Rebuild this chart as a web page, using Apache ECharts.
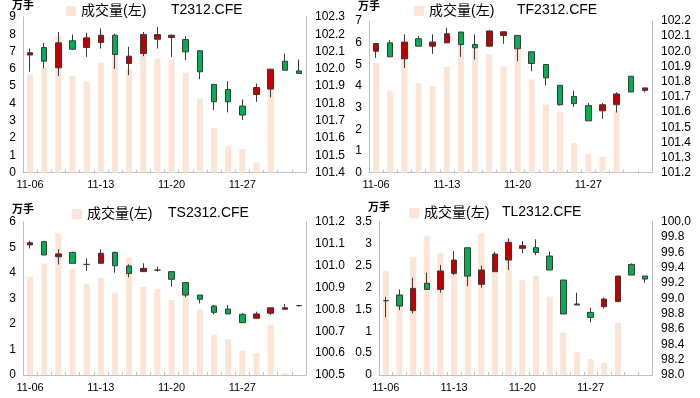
<!DOCTYPE html>
<html><head><meta charset="utf-8">
<script src="https://cdn.jsdelivr.net/npm/echarts@6/dist/echarts.min.js"></script>
<style>html,body{margin:0;padding:0;background:#fff}#c{width:700px;height:398px}</style>
</head><body><div id="c"></div>
<script>
const dates = ['11-06','11-07','11-08','11-09','11-10','11-13','11-14','11-15','11-16','11-17','11-20','11-21','11-22','11-23','11-24','11-27','11-28','11-29','11-30','12-01'];
const legendName = '成交量(左)';
const unitName = '万手';
const titles = ['T2312.CFE','TF2312.CFE','TS2312.CFE','TL2312.CFE'];

const volT = [5.7,6.05,7.9,5.6,5.28,6.35,6.9,6.0,6.8,6.6,6.53,5.76,4.25,2.58,1.53,1.36,0.59,4.85,0,0];
const volTF = [5.07,3.79,5.3,4.14,4.0,4.88,5.89,5.69,5.46,4.91,5.69,4.3,3.14,2.78,1.36,0.87,0.74,2.86,0,0];
const volTS = [3.85,4.37,5.54,4.15,3.56,3.81,3.23,4.6,3.45,3.36,2.93,3.1,2.55,1.58,1.4,0.95,0.85,1.96,0.07,0];
const volTL = [2.38,1.85,2.69,3.18,2.78,2.45,2.6,3.23,2.5,3.1,2.17,2.26,1.79,0.97,0.52,0.36,0.28,1.19,0,0];

// [open, close, low, high]
const kT = [
 [102.08,102.093,101.983,102.117],[102.123,102.044,102.002,102.15],[102.006,102.15,101.958,102.213],[102.162,102.113,102.108,102.198],
 [102.123,102.179,102.069,102.208],[102.152,102.194,102.117,102.233],[102.194,102.083,102.0,102.204],[102.031,102.073,101.963,102.127],
 [102.088,102.198,102.073,102.213],[102.171,102.198,102.117,102.242],[102.181,102.194,102.069,102.198],[102.169,102.098,102.05,102.188],
 [102.104,101.983,101.94,102.108],[101.91,101.81,101.762,101.91],[101.881,101.81,101.748,101.929],[101.785,101.733,101.704,101.823],
 [101.852,101.892,101.81,101.915],[101.883,101.998,101.835,101.998],[102.044,101.992,101.992,102.088],[101.988,101.973,101.973,102.054]];
const kTF = [
 [102.001,102.051,101.957,102.056],[102.056,101.964,101.964,102.074],[101.951,102.061,101.891,102.112],[102.083,102.034,102.034,102.101],
 [102.034,102.061,101.984,102.112],[102.056,102.116,102.056,102.156],[102.127,102.045,101.964,102.129],[102.045,102.023,101.946,102.112],
 [102.034,102.134,102.034,102.14],[102.105,102.129,102.05,102.129],[102.105,102.017,101.935,102.105],[101.997,101.92,101.869,101.997],
 [101.913,101.825,101.774,101.913],[101.776,101.648,101.642,101.776],[101.703,101.655,101.633,101.741],[101.642,101.542,101.542,101.659],
 [101.608,101.648,101.555,101.659],[101.648,101.719,101.597,101.73],[101.836,101.732,101.732,101.836],[101.743,101.759,101.73,101.759]];
const kTS = [
 [101.094,101.104,101.078,101.113],[101.109,101.048,101.048,101.113],[101.04,101.053,101.005,101.074],[101.06,101.01,101.01,101.063],
 [101.005,101.005,100.976,101.033],[101.01,101.056,101.01,101.074],[101.06,100.999,100.967,101.063],[100.998,100.964,100.946,101.005],
 [100.972,100.987,100.972,101.01],[100.979,100.979,100.972,100.995],[100.972,100.937,100.903,100.975],[100.922,100.865,100.855,100.922],
 [100.865,100.846,100.827,100.865],[100.815,100.786,100.777,100.82],[100.801,100.779,100.779,100.82],[100.777,100.739,100.739,100.782],
 [100.759,100.779,100.756,100.789],[100.782,100.807,100.774,100.807],[100.8,100.807,100.8,100.824],[100.817,100.817,100.812,100.82]];
const kTL = [
 [98.97,98.97,98.75,99.02],[99.043,98.9,98.848,99.117],[98.84,99.13,98.804,99.27],[99.196,99.117,99.117,99.335],
 [99.117,99.357,99.074,99.435],[99.326,99.5,99.304,99.617],[99.66,99.29,99.16,99.66],[99.183,99.37,99.139,99.426],
 [99.348,99.578,99.348,99.609],[99.5,99.73,99.37,99.783],[99.652,99.687,99.587,99.748],[99.661,99.6,99.565,99.77],
 [99.552,99.37,99.37,99.609],[99.239,98.796,98.796,99.239],[98.926,98.913,98.913,99.074],[98.817,98.752,98.687,98.878],
 [98.891,98.991,98.87,99.009],[98.957,99.291,98.957,99.291],[99.443,99.304,99.304,99.457],[99.291,99.252,99.204,99.291]];

const volAxes = [{max:9,interval:1},{max:7,interval:1},{max:6,interval:1},{max:3.5,interval:0.5}];
const priceAxes = [{min:101.4,max:102.3,interval:0.1,dec:1},{min:101.2,max:102.2,interval:0.1,dec:1},{min:100.5,max:101.2,interval:0.1,dec:1},{min:98.0,max:100.0,interval:0.2,dec:1}];
const vols = [volT, volTF, volTS, volTL];
const ks = [kT, kTF, kTS, kTL];

const FONT = '"Liberation Sans", Arial, "Noto Sans CJK SC", sans-serif';
const grids = [
 {left:23, right:394, top:16, bottom:225.3},
 {left:369, right:48, top:21, bottom:225.3},
 {left:23, right:394, top:221.7, bottom:23},
 {left:379, right:48, top:221.7, bottom:23}
];
const nameGaps = [4, 9, 6.5, 8.5];
const legendPos = [{left:66, top:4},{left:414, top:4},{left:72, top:207},{left:409, top:206}];
const titlePos = [{left:171, top:3},{left:517, top:3},{left:168, top:206},{left:502, top:205}];

const AX = '#BFBFBF';
const option = {
 animation:false,
 backgroundColor:'#fff',
 textStyle:{fontFamily:FONT},
 grid: grids,
 title: titles.map((t,i)=>({text:t, left:titlePos[i].left, top:titlePos[i].top, padding:0,
   textStyle:{fontSize:14, fontWeight:'normal', color:'#000', fontFamily:FONT}})),
 legend: legendPos.map((p,i)=>({data:[legendName], left:p.left, top:p.top, padding:0, icon:'rect', itemWidth:10, itemHeight:10, itemGap:4,
   textStyle:{fontSize:14, color:'#000', fontFamily:FONT}, selectedMode:false})),
 xAxis: grids.map((g,i)=>({type:'category', gridIndex:i, data:dates, boundaryGap:true,
   axisLine:{lineStyle:{color:AX}}, axisTick:{show:true, inside:true, length:3, interval:0, lineStyle:{color:AX}},
   axisLabel:{interval:4, fontSize:11, color:'#000', margin:7, fontFamily:FONT}, splitLine:{show:false}})),
 yAxis: [],
 series: []
};
for (let i=0;i<4;i++){
 option.yAxis.push({type:'value', gridIndex:i, position:'left', min:0, max:volAxes[i].max, interval:volAxes[i].interval,
   name:unitName, nameLocation:'end', nameGap:nameGaps[i], nameTextStyle:{fontSize:11, fontWeight:'bold', color:'#000', fontFamily:FONT, align:'center'},
   axisLine:{show:true, lineStyle:{color:AX}}, axisTick:{show:false}, splitLine:{show:false},
   axisLabel:{fontSize:12, color:'#000', margin:7, fontFamily:FONT}});
 const pa = priceAxes[i];
 option.yAxis.push({type:'value', gridIndex:i, position:'right', min:pa.min, max:pa.max, interval:pa.interval,
   axisLine:{show:true, lineStyle:{color:AX}}, axisTick:{show:false}, splitLine:{show:false},
   axisLabel:{fontSize:12, color:'#000', margin:9, fontFamily:FONT, formatter:v=>v.toFixed(pa.dec)}});
 option.series.push({name:legendName, type:'bar', xAxisIndex:i, yAxisIndex:i*2, data:vols[i], barWidth:6,
   itemStyle:{color:'#FCE4D6'}, z:1});
 option.series.push({name:titles[i], type:'candlestick', xAxisIndex:i, yAxisIndex:i*2+1, data:ks[i], barWidth:6,
   itemStyle:{color:'#C00000', color0:'#00B050', borderColor:'#3A3A3A', borderColor0:'#3A3A3A', borderColorDoji:'#3A3A3A', borderWidth:1}, z:3});
}
const chart = echarts.init(document.getElementById('c'), null, {renderer:'canvas', width:700, height:398});
chart.setOption(option);
</script></body></html>
